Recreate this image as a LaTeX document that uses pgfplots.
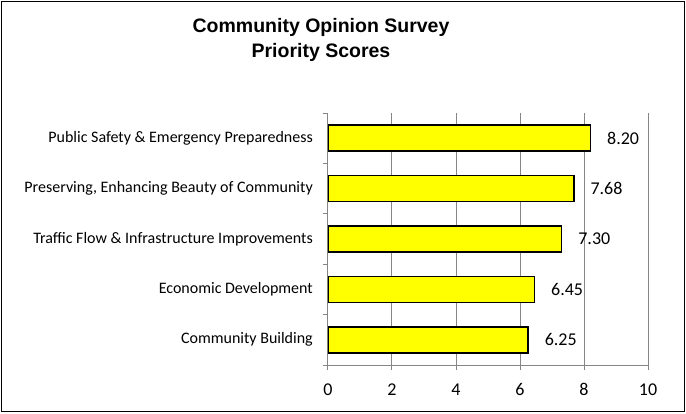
\documentclass[border=0pt]{standalone}
\usepackage{pgfplots}
\pgfplotsset{compat=1.18}
\usepackage{fontspec}
\setmainfont{Carlito}
\newfontfamily\titlefont{Liberation Sans}

\definecolor{gridgray}{HTML}{868686}
\definecolor{baryellow}{HTML}{FFFF00}

\begin{document}
\begin{tikzpicture}[x=1pt,y=1pt]
\useasboundingbox (0,0) rectangle (686,413);
\draw[line width=1.5pt] (1.5,1.5) rectangle (684.5,411.5);
\node[font=\titlefont\bfseries\fontsize{19.5}{25}\selectfont, align=center] at (321,373.5) {Community Opinion Survey\\Priority Scores};
\begin{axis}[
    at={(328pt,48pt)}, anchor=south west,
    scale only axis, width=320pt, height=252pt,
    xbar, bar width=26pt,
    xmin=0, xmax=10, ymin=-0.5, ymax=4.5,
    xtick={0,2,...,10},
    ytick={-0.5,0.5,...,4.5},
    yticklabels={},
    extra y ticks={0,1,2,3,4},
    extra y tick labels={Community Building, Economic Development,
        Traffic Flow \& Infrastructure Improvements,
        {Preserving, Enhancing Beauty of Community},
        Public Safety \& Emergency Preparedness},
    extra y tick style={major tick length=0pt,
        yticklabel style={font=\fontsize{16}{18}\selectfont, inner sep=0pt, xshift=-15pt}},
    axis x line*=bottom, axis y line*=left,
    axis line style={gridgray, line width=1pt},
    xmajorgrids, major grid style={gridgray, line width=1pt},
    major tick length=5pt,
    tick style={gridgray, line width=1pt},
    tick align=outside,
    xticklabel style={font=\fontsize{18}{20}\selectfont, yshift=-10pt},
    /pgf/number format/assume math mode=true,
    point meta=x,
    nodes near coords={\pgfmathprintnumber[fixed,fixed zerofill,precision=2]{\pgfplotspointmeta}},
    nodes near coords style={anchor=west, inner sep=0pt, xshift=16pt, font=\fontsize{18}{20}\selectfont, black},
]
\addplot[fill=baryellow, draw=black, line width=1.5pt] coordinates {
    (6.25,0) (6.45,1) (7.30,2) (7.68,3) (8.20,4)
};
\end{axis}
\end{tikzpicture}
\end{document}
